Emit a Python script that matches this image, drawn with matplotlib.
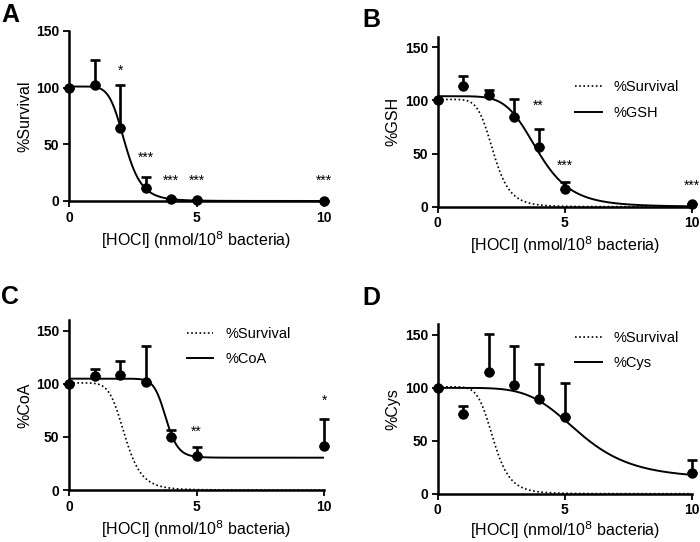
import numpy as np
import matplotlib
matplotlib.use("Agg")
import matplotlib.pyplot as plt

plt.rcParams['font.family'] = ['Liberation Sans', 'DejaVu Sans']

dose = [0, 1, 2, 3, 4, 5, 10]

# Panel A: survival
surv_mean = [100, 102.4, 64, 11.5, 1.8, 0.6, 0.3]
surv_err = [0, 21.6, 38, 9.5, 0, 0, 0]
surv_fit = dict(top=101, bottom=0, ic50=2.2, hill=6.8)
surv_stars_x = [2, 3, 4, 5, 10]
surv_stars_y = [109, 32, 12, 12, 12]
surv_stars = ['*', '***', '***', '***', '***']

# Panel B: GSH
gsh_mean = [100, 113.6, 104.8, 84, 55.9, 17, 2.5]
gsh_err = [0, 9.1, 5.0, 17, 17.5, 6.5, 0]
gsh_fit = dict(top=104, bottom=0, ic50=3.95, hill=6.0)
gsh_stars_x = [3.95, 5, 10]
gsh_stars_y = [88, 32, 13]
gsh_stars = ['**', '***', '***']

# Panel C: CoA
coa_mean = [100, 107.5, 108.5, 102, 50.3, 32.4, 41.5]
coa_err = [0, 7, 13.5, 33.5, 6.7, 8.2, 25.8]
coa_fit = dict(top=105, bottom=30.5, ic50=3.8, hill=16)
coa_stars_x = [5, 10]
coa_stars_y = [48, 78]
coa_stars = ['**', '*']

# Panel D: Cys
cys_mean = [100, 75, 115, 102.4, 89, 72, 20]
cys_err = [0, 7.6, 36, 37, 33.3, 33, 12]
cys_fit = dict(top=100, bottom=14, ic50=5.6, hill=5.3)

xticks = [0, 5, 10]
yticks = [0, 50, 100, 150]
xlabel = '[HOCl] (nmol/10$^{8}$ bacteria)'


def logistic(x, top, bottom, ic50, hill):
    return bottom + (top - bottom) / (1 + (x / ic50) ** hill)


fig = plt.figure(figsize=(7, 5.42), dpi=100)

positions = {
    'A': [0.0986, 0.6292, 0.3643, 0.3137],
    'B': [0.6253, 0.6186, 0.3629, 0.3137],
    'C': [0.0986, 0.0959, 0.3643, 0.3131],
    'D': [0.6253, 0.0891, 0.3629, 0.3125],
}
panel_label_pos = {'A': (0.002, 0.995), 'B': (0.517, 0.985), 'C': (0.002, 0.475), 'D': (0.517, 0.472)}

xs = np.linspace(0, 10, 400)


def style_axes(ax, ylabel, ymax, xpad=3):
    ax.set_xlim(0, 10)
    ax.set_ylim(0, ymax)
    ax.set_xticks(xticks)
    ax.set_yticks(yticks)
    for s in ['top', 'right']:
        ax.spines[s].set_visible(False)
    for s in ['left', 'bottom']:
        ax.spines[s].set_linewidth(1.8)
    ax.tick_params(direction='out', length=4.5, width=1.3, labelsize=10, pad=2.5)
    for lab in ax.get_xticklabels() + ax.get_yticklabels():
        lab.set_fontweight('bold')
    ax.set_xlabel(xlabel, fontsize=11.5, labelpad=xpad)
    ax.set_ylabel(ylabel, fontsize=11.5, labelpad=3)


def draw_data(ax, mean, err):
    ax.errorbar(dose, mean, yerr=[np.zeros(len(err)), err], fmt='o', color='black',
                ms=6.5, elinewidth=1.9, capsize=3.5, capthick=1.9, clip_on=False, zorder=3)


def draw_stars(ax, sx, sy, st):
    for x, y, t in zip(sx, sy, st):
        ax.text(x, y, t, ha='center', va='bottom', fontsize=10, clip_on=False)


# A
ax = fig.add_axes(positions['A'])
ax.plot(xs, logistic(xs, **surv_fit), color='black', lw=1.4, zorder=2)
draw_data(ax, surv_mean, surv_err)
draw_stars(ax, surv_stars_x, surv_stars_y, surv_stars)
style_axes(ax, '%Survival', 150)

# B
ax = fig.add_axes(positions['B'])
ax.plot(xs, logistic(xs, **surv_fit), color='black', lw=1.2, ls=(0, (1, 1.5)), label='%Survival')
ax.plot(xs, logistic(xs, **gsh_fit), color='black', lw=1.4, label='%GSH')
draw_data(ax, gsh_mean, gsh_err)
draw_stars(ax, gsh_stars_x, gsh_stars_y, gsh_stars)
style_axes(ax, '%GSH', 160)
ax.legend(loc='upper right', bbox_to_anchor=(1.0, 0.82), frameon=False, fontsize=10.5,
          handlelength=1.8, labelspacing=0.8)

# C
ax = fig.add_axes(positions['C'])
ax.plot(xs, logistic(xs, **surv_fit), color='black', lw=1.2, ls=(0, (1, 1.5)), label='%Survival')
ax.plot(xs, logistic(xs, **coa_fit), color='black', lw=1.4, label='%CoA')
draw_data(ax, coa_mean, coa_err)
draw_stars(ax, coa_stars_x, coa_stars_y, coa_stars)
style_axes(ax, '%CoA', 160)
ax.legend(loc='upper right', bbox_to_anchor=(0.92, 1.04), frameon=False, fontsize=10.5,
          handlelength=1.8, labelspacing=0.8)

# D
ax = fig.add_axes(positions['D'])
ax.plot(xs, logistic(xs, **surv_fit), color='black', lw=1.2, ls=(0, (1, 1.5)), label='%Survival')
ax.plot(xs, logistic(xs, **cys_fit), color='black', lw=1.4, label='%Cys')
draw_data(ax, cys_mean, cys_err)
style_axes(ax, '%Cys', 160, xpad=1.5)
ax.legend(loc='upper right', bbox_to_anchor=(1.0, 1.04), frameon=False, fontsize=10.5,
          handlelength=1.8, labelspacing=0.8)

for k, (x, y) in panel_label_pos.items():
    fig.text(x, y, k, fontsize=18, fontweight='bold', ha='left', va='top')

fig.savefig('out.png', dpi=100)
